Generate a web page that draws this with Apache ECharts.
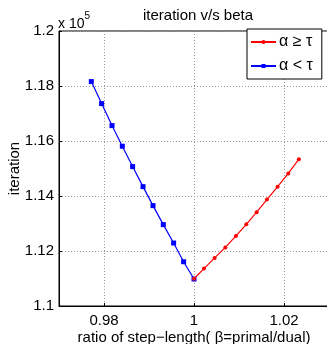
<!DOCTYPE html>
<html>
<head>
<meta charset="utf-8">
<script src="https://cdn.jsdelivr.net/npm/echarts@6/dist/echarts.min.js"></script>
<style>
  html, body { margin: 0; padding: 0; background: #fff; }
  #chart { width: 327px; height: 344px; }
</style>
</head>
<body>
<div id="chart"></div>
<script>
// beta values (ratio of step-length) and iteration counts
var betaHigh = [1.0, 1.00222, 1.00459, 1.00697, 1.00932, 1.01163, 1.01392, 1.0162, 1.01858, 1.02096, 1.02331];
var iterHigh = [110990, 111360, 111750, 112130, 112550, 112970, 113410, 113870, 114340, 114820, 115340];
var betaLow = [0.97718, 0.97947, 0.98178, 0.98407, 0.98636, 0.98867, 0.99089, 0.99318, 0.99547, 0.99769, 1.0];
var iterLow = [118160, 117360, 116560, 115810, 115070, 114340, 113650, 112960, 112290, 111610, 110980];
var xTicks = [0.98, 1, 1.02];
var seriesNames = ['α ≥ τ', 'α < τ'];

function pairs(xs, ys) {
    return xs.map(function (x, i) { return [x, ys[i]]; });
}

var fontFam = '"Liberation Sans", Arial, sans-serif';

var option = {
    animation: false,
    backgroundColor: '#fff',
    textStyle: { fontFamily: fontFam },
    title: {
        text: 'iteration v/s beta',
        left: 193,
        top: 3,
        textAlign: 'center',
        textStyle: { fontSize: 15, fontWeight: 'normal', color: '#000', fontFamily: fontFam }
    },
    grid: {
        left: 59,
        right: -2,
        top: 31,
        bottom: 38,
        containLabel: false,
        outerBoundsMode: 'none',
        show: true,
        borderColor: '#000',
        borderWidth: 1
    },
    legend: {
        left: 247,
        top: 29,
        orient: 'vertical',
        backgroundColor: '#fff',
        borderColor: '#000',
        borderWidth: 1,
        padding: [5, 9, 5, 3],
        itemWidth: 25,
        itemHeight: 5,
        itemGap: 8,
        textStyle: { fontSize: 16, color: '#000', fontFamily: fontFam, padding: [0, 0, 0, -2] },
        data: seriesNames
    },
    xAxis: {
        type: 'value',
        min: 0.97,
        max: 1.03,
        interval: 0.01,
        name: 'ratio of step−length( β=primal/dual)',
        nameLocation: 'middle',
        nameGap: 24,
        nameMoveOverlap: false,
        nameTextStyle: { fontSize: 15, color: '#000', fontFamily: fontFam },
        axisLine: { lineStyle: { color: '#000' } },
        axisTick: { inside: true, length: 3, lineStyle: { color: '#000' }, customValues: xTicks },
        axisLabel: {
            fontSize: 15, color: '#000', margin: 7,
            customValues: xTicks,
            formatter: function (v) { return String(+v.toFixed(2)); }
        },
        splitLine: { show: true, lineStyle: { color: '#999', type: [1, 2], width: 1 } }
    },
    yAxis: {
        type: 'value',
        min: 110000,
        max: 120000,
        interval: 2000,
        name: 'iteration',
        nameLocation: 'middle',
        nameGap: 37,
        nameMoveOverlap: false,
        nameTextStyle: { fontSize: 15, color: '#000', fontFamily: fontFam },
        axisLine: { show: true, lineStyle: { color: '#000' } },
        axisTick: { show: true, inside: true, length: 3, lineStyle: { color: '#000' } },
        axisLabel: {
            fontSize: 15, color: '#000', margin: 5,
            formatter: function (v) { return String(+(v / 1e5).toFixed(2)); }
        },
        splitLine: { show: true, lineStyle: { color: '#999', type: [1, 2], width: 1 } }
    },
    graphic: [{
        type: 'text',
        left: 58,
        top: 11,
        style: {
            text: '{a|x 10}{b|5}',
            rich: {
                a: { fontSize: 14, fontFamily: fontFam, fill: '#000', padding: [6, 0, 0, 0] },
                b: { fontSize: 10, fontFamily: fontFam, fill: '#000', verticalAlign: 'top' }
            }
        }
    }],
    series: [
        {
            name: seriesNames[0],
            type: 'line',
            data: pairs(betaHigh, iterHigh),
            symbol: 'circle',
            symbolSize: 4,
            lineStyle: { color: '#ff0000', width: 1.2 },
            itemStyle: { color: '#ff0000' },
            z: 3
        },
        {
            name: seriesNames[1],
            type: 'line',
            data: pairs(betaLow, iterLow),
            symbol: 'rect',
            symbolSize: 5,
            lineStyle: { color: '#0000ff', width: 1.2 },
            itemStyle: { color: '#0000ff' },
            z: 2
        }
    ]
};

var chart = echarts.init(document.getElementById('chart'));
chart.setOption(option);
</script>
</body>
</html>
